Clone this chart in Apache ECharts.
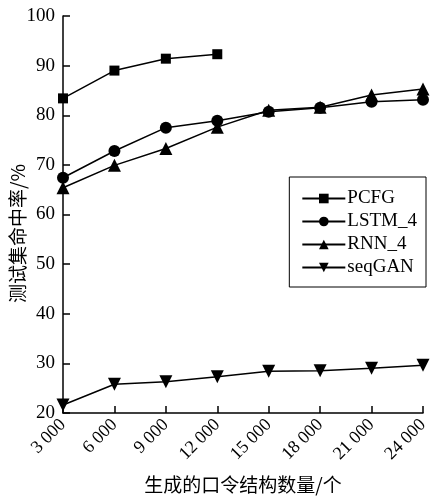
<!DOCTYPE html>
<html lang="zh">
<head>
    <meta charset="UTF-8">
    <title>测试集命中率</title>
    <script src="https://cdn.jsdelivr.net/npm/echarts@6/dist/echarts.min.js"></script>
    <style>
        html, body {margin: 0; padding: 0; background: #fff;}
        #chart {width: 430px; height: 496px;}
    </style>
</head>
<body>
<div id="chart"></div>
<script type="text/javascript">
    // 横轴：生成的口令结构数量
    const counts = [3000, 6000, 9000, 12000, 15000, 18000, 21000, 24000];
    const pcfg = [83.4, 89.0, 91.4, 92.3];
    const lstm4 = [67.4, 72.8, 77.5, 78.9, 80.7, 81.5, 82.7, 83.1];
    const rnn4 = [65.4, 69.9, 73.3, 77.6, 81.0, 81.6, 84.1, 85.3];
    const seqgan = [21.6, 25.8, 26.3, 27.3, 28.4, 28.5, 29.0, 29.6];

    const serif = '"Liberation Serif", "DejaVu Serif", serif';
    const cjk = '"Noto Sans CJK SC", sans-serif';

    function pairs(vals) {
        return vals.map((v, i) => [counts[i], v]);
    }

    function mkLine(name, vals, symbol, size, rotate) {
        return {
            name: name,
            type: 'line',
            data: pairs(vals),
            symbol: symbol,
            symbolSize: size,
            symbolRotate: rotate || 0,
            lineStyle: {color: '#000', width: 1.5},
            itemStyle: {color: '#000'},
            animation: false
        };
    }

    const chart = echarts.init(document.getElementById('chart'));
    chart.setOption({
        backgroundColor: '#fff',
        grid: {left: 63, right: 7, top: 16, bottom: 83, outerBoundsMode: 'none', containLabel: false},
        legend: {
            orient: 'vertical',
            right: 4,
            top: 177,
            padding: [12, 9, 10, 12],
            itemGap: 4,
            itemWidth: 43,
            itemHeight: 12,
            borderColor: '#000',
            borderWidth: 1,
            borderRadius: 0,
            backgroundColor: '#fff',
            align: 'left',
            textStyle: {fontFamily: serif, fontSize: 19, lineHeight: 18, color: '#000', padding: [0, 0, 0, -3]},
            data: ['PCFG', 'LSTM_4', 'RNN_4', 'seqGAN']
        },
        xAxis: {
            type: 'value',
            min: 3000,
            max: 24000,
            interval: 3000,
            name: '生成的口令结构数量/个',
            nameLocation: 'middle',
            nameGap: 62,
            nameMoveOverlap: false,
            nameTextStyle: {fontFamily: cjk, fontSize: 19, color: '#000'},
            axisLine: {lineStyle: {color: '#000', width: 1.5}},
            axisTick: {inside: true, length: 7, lineStyle: {color: '#000', width: 1.5}},
            splitLine: {show: false},
            axisLabel: {
                rotate: 45,
                margin: 9,
                fontFamily: serif,
                fontSize: 18,
                color: '#000',
                formatter: function (v) {
                    const s = String(v);
                    return s.slice(0, s.length - 3) + ' ' + s.slice(-3);
                }
            }
        },
        yAxis: {
            type: 'value',
            min: 20,
            max: 100,
            interval: 10,
            name: '测试集命中率/%',
            nameLocation: 'middle',
            nameRotate: 90,
            nameGap: 36,
            nameMoveOverlap: false,
            nameTextStyle: {fontFamily: cjk, fontSize: 19, color: '#000', padding: [0, 38, 0, 0]},
            axisLine: {show: true, lineStyle: {color: '#000', width: 1.5}},
            axisTick: {show: true, inside: true, length: 7, lineStyle: {color: '#000', width: 1.5}},
            splitLine: {show: false},
            axisLabel: {fontFamily: serif, fontSize: 19, color: '#000', margin: 8}
        },
        series: [
            mkLine('PCFG', pcfg, 'rect', 10),
            mkLine('LSTM_4', lstm4, 'circle', 12),
            mkLine('RNN_4', rnn4, 'triangle', 13),
            mkLine('seqGAN', seqgan, 'triangle', 13, 180)
        ]
    });
</script>
</body>
</html>
